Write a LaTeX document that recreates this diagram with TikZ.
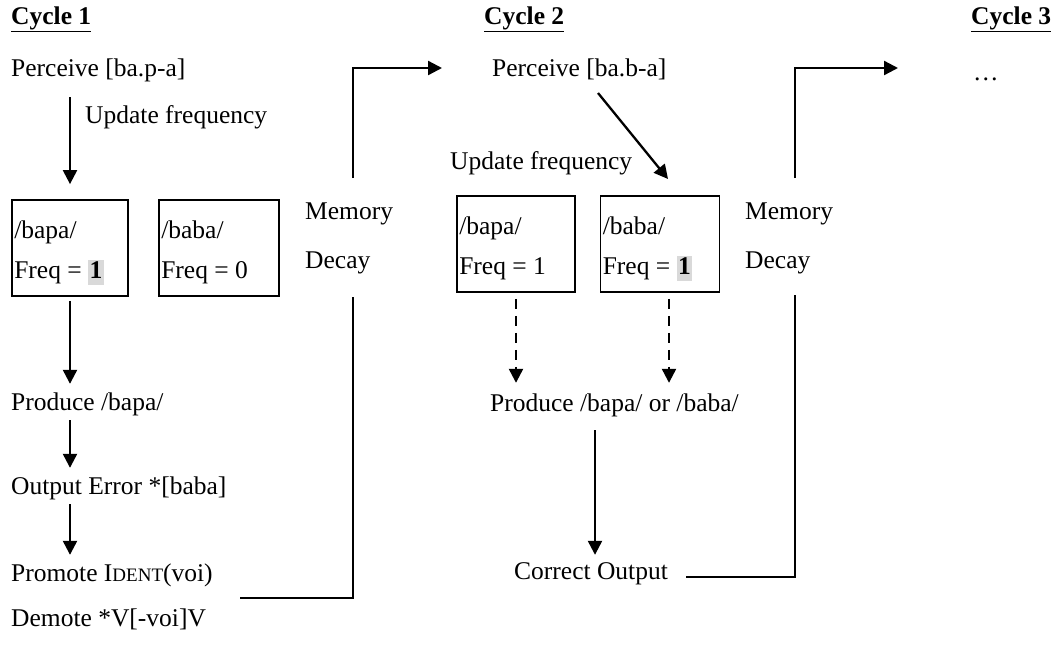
\documentclass[tikz,border=0pt]{standalone}
\usepackage{fontspec}
\setmainfont{Liberation Serif}
\usetikzlibrary{arrows.meta}
\definecolor{hl}{HTML}{D9D9D9}
\newcommand{\hlone}{{\setlength{\fboxsep}{1.5pt}\colorbox{hl}{\rule[-5pt]{0pt}{21pt}\textbf{1}}}}
\newcommand{\smc}[1]{{\fontsize{19}{20}\selectfont #1}}
\begin{document}
\begin{tikzpicture}[x=1pt,y=-1pt,
  lbl/.style={anchor=west, inner sep=0pt, font=\fontsize{25.5}{30}\selectfont,
              text height=18pt, text depth=6pt},
  head/.style={lbl, font=\fontsize{25.5}{30}\selectfont\bfseries},
  wbox/.style={draw, line width=1.8pt, minimum height=96pt, inner sep=0pt},
  link/.style={line width=2.3pt},
  arr/.style={link, -{Triangle[length=14pt,width=14pt]}},
  dasharr/.style={arr, dash pattern=on 10pt off 7pt}]
\useasboundingbox (0,0) rectangle (1056,657);

% cycle headings
\node[head] (c1) at (11,18) {\underline{Cycle 1}};
\node[head] (c2) at (484,18) {\underline{Cycle 2}};
\node[head] (c3) at (971,18) {\underline{Cycle 3}};

% ---------- cycle 1 ----------
\node[lbl] (perc1) at (11,70) {Perceive [ba.p-a]};
\node[lbl] (upd1) at (85,117) {Update frequency};
\node[wbox, minimum width=116pt] (box1) at (70,248) {};
\node[wbox, minimum width=120pt] (box2) at (219,248) {};
\node[lbl] (b1a) at ([xshift=3pt,yshift=16pt]box1.west) {/bapa/};
\node[lbl] (b1b) at ([xshift=3pt,yshift=-24pt]box1.west) {Freq = \hlone};
\node[lbl] (b2a) at ([xshift=3pt,yshift=16pt]box2.west) {/baba/};
\node[lbl] (b2b) at ([xshift=3pt,yshift=-24pt]box2.west) {Freq = 0};
\node[lbl] (mem1) at (305,213) {Memory};
\node[lbl] (dec1) at (305,262) {Decay};
\node[lbl] (prod1) at (11,404) {Produce /bapa/};
\node[lbl] (err1) at (11,488) {Output Error *[baba]};
\node[lbl] (prom1) at (11,575) {Promote I\smc{DENT}(voi)};
\node[lbl] (dem1) at (11,620) {Demote *V[-voi]V};

\draw[arr, shorten <=15pt, shorten >=15pt] (box1.north |- perc1.south) -- (box1.north);
\draw[arr, shorten <=4pt, shorten >=8pt] (box1.south) -- (box1.south |- prod1.north);
\draw[arr, shorten <=4pt, shorten >=8pt] (box1.south |- prod1.south) -- (box1.south |- err1.north);
\draw[arr, shorten <=4pt, shorten >=8pt] (box1.south |- err1.south) -- (box1.south |- prom1.north);

% memory decay link from cycle 1 to cycle 2
\coordinate (m1a) at (240,598);
\coordinate (m1b) at (353,598);
\coordinate (m1c) at (353,297);
\coordinate (m1d) at (353,178);
\coordinate (m1e) at (442,68);
\draw[link] (m1a) -- (m1b) -- (m1c);
\draw[arr] (m1d) |- (m1e);

% ---------- cycle 2 ----------
\node[lbl] (perc2) at (492,70) {Perceive [ba.b-a]};
\node[lbl] (upd2) at (450,163) {Update frequency};
\node[wbox, minimum width=118pt] (box3) at (516,244) {};
\node[wbox, minimum width=119pt] (box4) at (660,244) {};
\node[lbl] (b3a) at ([xshift=3pt,yshift=16pt]box3.west) {/bapa/};
\node[lbl] (b3b) at ([xshift=3pt,yshift=-24pt]box3.west) {Freq = 1};
\node[lbl] (b4a) at ([xshift=3pt,yshift=16pt]box4.west) {/baba/};
\node[lbl] (b4b) at ([xshift=3pt,yshift=-24pt]box4.west) {Freq = \hlone};
\node[lbl] (mem2) at (745,213) {Memory};
\node[lbl] (dec2) at (745,262) {Decay};
\node[lbl] (prod2) at (490,405) {Produce /bapa/ or /baba/};
\node[lbl] (corr) at (514,573) {Correct Output};

\coordinate (d2a) at (598,93);
\coordinate (d2b) at (668,179);
\draw[arr] (d2a) -- (d2b);
\draw[dasharr, shorten <=6pt, shorten >=10pt] (box3.south) -- (box3.south |- prod2.north);
\draw[dasharr, shorten <=6pt, shorten >=10pt] ([xshift=9pt]box4.south) -- ([xshift=9pt]box4.south |- prod2.north);
\coordinate (p2s) at (595,430);
\draw[arr, shorten >=6pt] (p2s) -- (p2s |- corr.north);

% memory decay link from cycle 2 to cycle 3
\coordinate (m2a) at (686,577);
\coordinate (m2b) at (795,577);
\coordinate (m2c) at (795,295);
\coordinate (m2d) at (795,178);
\coordinate (m2e) at (898,68);
\draw[link] (m2a) -- (m2b) -- (m2c);
\draw[arr] (m2d) |- (m2e);

% ---------- cycle 3 ----------
\node[lbl] (dots) at (973,74) {\dots};
\end{tikzpicture}
\end{document}
